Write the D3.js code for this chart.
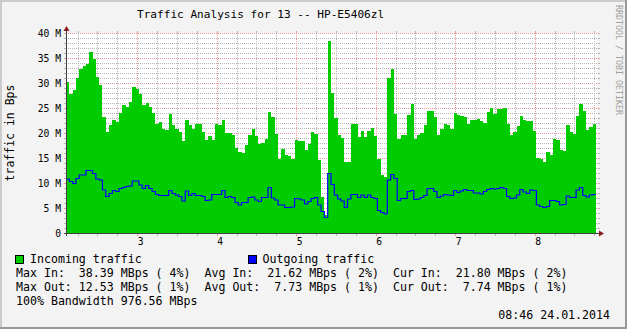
<!DOCTYPE html>
<html>
<head>
<meta charset="utf-8">
<script src="https://cdnjs.cloudflare.com/ajax/libs/d3/7.8.5/d3.min.js"></script>
<style>
body { margin: 0; background: #f3f3f3; }
text { font-family: "DejaVu Sans Mono", monospace; white-space: pre; }
</style>
</head>
<body>
<script>
// hourly samples, in MBps
var inData = [
  30.3, 27.9, 28.6, 31.0, 32.9, 33.5, 33.9, 36.3, 34.9, 31.3,
  29.6, 23.3, 20.3, 21.6, 22.7, 22.3, 24.0, 25.6, 25.3, 26.3,
  29.3, 28.9, 27.9, 25.6, 26.1, 25.3, 24.1, 21.9, 22.3, 20.8,
  20.6, 23.9, 21.7, 20.9, 20.3, 18.4, 22.7, 21.6, 20.9, 21.9,
  21.9, 20.3, 18.6, 19.5, 18.6, 21.8, 21.6, 22.7, 20.1, 20.1,
  19.6, 17.1, 16.3, 16.1, 17.6, 19.6, 20.9, 19.5, 17.9, 18.1,
  18.9, 24.3, 23.3, 19.9, 14.9, 16.9, 15.6, 15.4, 14.9, 18.6,
  18.4, 18.4, 16.6, 17.9, 20.3, 19.9, 14.6, 7.3, 3.6, 38.4,
  28.0, 23.0, 19.6, 19.1, 14.3, 14.3, 21.9, 21.9, 19.3, 20.4,
  19.3, 20.4, 21.0, 19.5, 14.9, 11.6, 11.2, 31.0, 32.8, 23.9,
  18.9, 19.7, 19.7, 23.6, 25.9, 18.9, 19.6, 20.1, 21.6, 24.4,
  24.4, 23.3, 19.6, 20.9, 21.9, 21.6, 20.9, 24.1, 23.6, 23.5,
  23.2, 21.8, 22.6, 22.6, 22.9, 22.4, 22.1, 24.3, 25.0, 23.9,
  24.8, 24.9, 25.0, 21.9, 19.7, 20.3, 21.5, 23.5, 22.6, 22.5,
  22.4, 20.4, 15.1, 14.8, 14.3, 16.3, 15.6, 18.9, 18.6, 16.6,
  16.4, 21.7, 20.3, 19.9, 23.5, 25.9, 24.5, 20.6, 21.3, 21.8
];
var outData = [
  10.8, 10.3, 9.9, 10.9, 11.6, 11.6, 12.5, 12.5, 11.9, 10.8,
  10.6, 8.6, 7.3, 7.9, 8.5, 8.3, 8.9, 9.1, 9.3, 9.4,
  10.4, 10.4, 9.6, 8.9, 9.5, 8.9, 8.3, 7.7, 7.5, 7.5,
  7.5, 8.5, 7.9, 7.6, 7.3, 6.4, 8.4, 7.5, 7.9, 7.5,
  7.5, 7.3, 6.5, 6.6, 7.7, 7.7, 7.7, 8.5, 7.1, 7.3,
  7.1, 6.1, 5.6, 6.1, 6.1, 7.1, 7.2, 6.6, 6.3, 7.1,
  7.1, 9.1, 7.0, 6.6, 5.6, 5.6, 5.1, 5.1, 5.2, 6.9,
  6.8, 6.6, 5.8, 6.3, 6.9, 7.1, 5.6, 4.3, 3.1, 11.9,
  9.7, 7.6, 6.8, 6.4, 5.1, 6.8, 7.7, 7.7, 7.1, 7.6,
  7.1, 7.6, 7.1, 6.9, 4.5, 4.1, 3.8, 10.6, 11.7, 10.9,
  6.5, 6.9, 6.9, 8.3, 8.5, 6.7, 6.8, 7.1, 7.5, 8.9,
  8.9, 8.3, 7.1, 7.4, 7.7, 7.6, 7.5, 8.5, 8.1, 8.4,
  8.7, 8.5, 8.5, 8.0, 8.0, 7.8, 8.3, 8.7, 8.9, 8.8,
  8.9, 9.1, 8.9, 7.3, 6.9, 7.0, 7.6, 8.7, 8.2, 7.9,
  8.6, 8.5, 5.6, 5.3, 5.1, 5.3, 6.5, 6.5, 6.3, 5.6,
  5.7, 7.4, 7.1, 7.1, 8.6, 9.1, 7.5, 7.2, 7.6, 7.7
];
var startDay = 2.105;           // first sample, in days
var dayTicks = [3, 4, 5, 6, 7, 8];
var yTicks = [0, 5, 10, 15, 20, 25, 30, 35, 40];
var yTickLabels = ["0", "5 M", "10 M", "15 M", "20 M", "25 M", "30 M", "35 M", "40 M"];

var legendLines = [
  "Max In:  38.39 MBps ( 4%)  Avg In:  21.62 MBps ( 2%)  Cur In:  21.80 MBps ( 2%)",
  "Max Out: 12.53 MBps ( 1%)  Avg Out:  7.73 MBps ( 1%)  Cur Out:  7.74 MBps ( 1%)",
  "100% Bandwidth 976.56 MBps"
];

var W = 627, H = 329;
// note: "top" is taken by window.top, so use plotTop
var plotLeft = 66, plotRight = 596, plotTop = 33, plotBottom = 233, canvasRight = 597;

var svg = d3.select("body").append("svg")
  .attr("width", W).attr("height", H);

// background + 3d frame
svg.append("rect").attr("width", W).attr("height", H).attr("fill", "#f3f3f3");
svg.append("rect").attr("x", 0).attr("y", 0).attr("width", W).attr("height", 2).attr("fill", "#cbcbcb");
svg.append("rect").attr("x", 0).attr("y", 0).attr("width", 2).attr("height", H).attr("fill", "#cbcbcb");
svg.append("rect").attr("x", 0).attr("y", H - 2).attr("width", W).attr("height", 2).attr("fill", "#999");
svg.append("rect").attr("x", W - 2).attr("y", 0).attr("width", 2).attr("height", H).attr("fill", "#999");

svg.append("rect")
  .attr("x", plotLeft).attr("y", plotTop)
  .attr("width", canvasRight - plotLeft).attr("height", plotBottom - plotTop)
  .attr("fill", "#fff");

var x = d3.scaleLinear().domain([0, inData.length]).range([plotLeft, plotRight]);
var xDay = d3.scaleLinear().domain([startDay, startDay + inData.length / 24]).range([plotLeft, plotRight]);
var y = d3.scaleLinear().domain([0, 40]).range([plotBottom, plotTop]);

var grid = svg.append("g").attr("shape-rendering", "crispEdges");

// horizontal grid
d3.range(1, 41).forEach(function(v) {
  var major = v % 5 == 0;
  var col = major ? "#e99a9a" : "#b4b4b4";
  var yy = Math.round(y(v)) + 0.5;
  grid.append("line").attr("x1", plotLeft).attr("x2", canvasRight + 1).attr("y1", yy).attr("y2", yy)
    .attr("stroke", col).attr("stroke-dasharray", "1,1");
  grid.append("line").attr("x1", plotLeft - 2).attr("x2", plotLeft).attr("y1", yy).attr("y2", yy).attr("stroke", col);
  grid.append("line").attr("x1", canvasRight + 1).attr("x2", canvasRight + 3).attr("y1", yy).attr("y2", yy).attr("stroke", col);
});

// vertical grid, every 6 hours
var endDay = startDay + inData.length / 24;
d3.range(Math.ceil(startDay * 4) / 4, endDay, 0.25).forEach(function(d) {
  var major = Math.abs(d - Math.round(d)) < 1e-6;
  var col = major ? "#e99a9a" : "#b4b4b4";
  var xx = Math.round(xDay(d)) + 0.5;
  grid.append("line").attr("x1", xx).attr("x2", xx).attr("y1", plotTop).attr("y2", plotBottom)
    .attr("stroke", col).attr("stroke-dasharray", "1,1");
  grid.append("line").attr("x1", xx).attr("x2", xx).attr("y1", plotBottom).attr("y2", plotBottom + 3).attr("stroke", col);
  grid.append("line").attr("x1", xx).attr("x2", xx).attr("y1", plotTop - 2).attr("y2", plotTop).attr("stroke", col);
});

// incoming area
var inPts = inData.map(function(v, i) { return [i, v]; });
inPts.push([inData.length, inData[inData.length - 1]]);
var area = d3.area()
  .curve(d3.curveStepAfter)
  .x(function(d) { return x(d[0]); })
  .y0(y(0))
  .y1(function(d) { return y(d[1]); });
svg.append("path").datum(inPts).attr("d", area)
  .attr("fill", "#00cc00").attr("shape-rendering", "crispEdges");

// outgoing line
var outPts = outData.map(function(v, i) { return [i, v]; });
outPts.push([outData.length, outData[outData.length - 1]]);
var line = d3.line()
  .curve(d3.curveStepAfter)
  .x(function(d) { return x(d[0]); })
  .y(function(d) { return y(d[1]); });
svg.append("path").datum(outPts).attr("d", line)
  .attr("fill", "none").attr("stroke", "#0000ff").attr("stroke-width", 1.2);

// axes
svg.append("line").attr("x1", plotLeft - 2).attr("x2", canvasRight + 3)
  .attr("y1", plotBottom + 0.5).attr("y2", plotBottom + 0.5)
  .attr("stroke", "#404040").attr("shape-rendering", "crispEdges");
svg.append("line").attr("x1", plotLeft + 0.5).attr("x2", plotLeft + 0.5)
  .attr("y1", plotBottom + 3).attr("y2", plotTop - 4)
  .attr("stroke", "#404040").attr("shape-rendering", "crispEdges");
svg.append("path").attr("d", "M" + (plotLeft - 2.5) + "," + (plotTop - 2) + "L" + (plotLeft + 0.5) + "," + (plotTop - 7) + "L" + (plotLeft + 3.5) + "," + (plotTop - 2) + "Z")
  .attr("fill", "#8b1c1c");
svg.append("path").attr("d", "M" + (canvasRight + 2) + "," + (plotBottom - 2.5) + "L" + (canvasRight + 7) + "," + (plotBottom + 0.5) + "L" + (canvasRight + 2) + "," + (plotBottom + 3.5) + "Z")
  .attr("fill", "#8b1c1c");

// tick labels
svg.selectAll(".ylab").data(yTicks).enter().append("text")
  .attr("class", "ylab")
  .attr("x", 61).attr("y", function(d) { return y(d) + 3.5; })
  .attr("text-anchor", "end")
  .attr("font-size", "9.7px").attr("fill", "#000")
  .text(function(d, i) { return yTickLabels[i]; });

svg.selectAll(".xlab").data(dayTicks).enter().append("text")
  .attr("class", "xlab")
  .attr("x", function(d) { return xDay(d) + 3.5; }).attr("y", 245)
  .attr("text-anchor", "middle")
  .attr("font-size", "9.7px").attr("fill", "#000")
  .text(function(d) { return d; });

// titles
svg.append("text").attr("x", 137).attr("y", 18)
  .attr("font-size", "11.1px").attr("fill", "#000")
  .text("Traffic Analysis for 13 -- HP-E5406zl");

svg.append("text").attr("transform", "translate(14,133) rotate(-90)")
  .attr("text-anchor", "middle")
  .attr("font-size", "11.5px").attr("fill", "#000")
  .text("traffic in Bps");

svg.append("text").attr("transform", "translate(616,5) rotate(90)")
  .attr("font-size", "8.3px").attr("fill", "#a0a0a0")
  .text("RRDTOOL / TOBI OETIKER");

// legend
svg.append("rect").attr("x", 15.5).attr("y", 255.5).attr("width", 8).attr("height", 8)
  .attr("fill", "#00cc00").attr("stroke", "#000").attr("stroke-width", 1);
svg.append("text").attr("x", 30).attr("y", 263).attr("font-size", "11.6px").text("Incoming traffic");
svg.append("rect").attr("x", 248.5).attr("y", 255.5).attr("width", 8).attr("height", 8)
  .attr("fill", "#0000ff").attr("stroke", "#000").attr("stroke-width", 1);
svg.append("text").attr("x", 262.5).attr("y", 263).attr("font-size", "11.6px").text("Outgoing traffic");

svg.selectAll(".leg").data(legendLines).enter().append("text")
  .attr("class", "leg")
  .attr("x", 16).attr("y", function(d, i) { return 277 + i * 14.2; })
  .attr("font-size", "11.6px").attr("fill", "#000")
  .text(function(d) { return d; });

svg.append("text").attr("x", 610).attr("y", 319).attr("text-anchor", "end")
  .attr("font-size", "11.6px").text("08:46 24.01.2014");
</script>
</body>
</html>
